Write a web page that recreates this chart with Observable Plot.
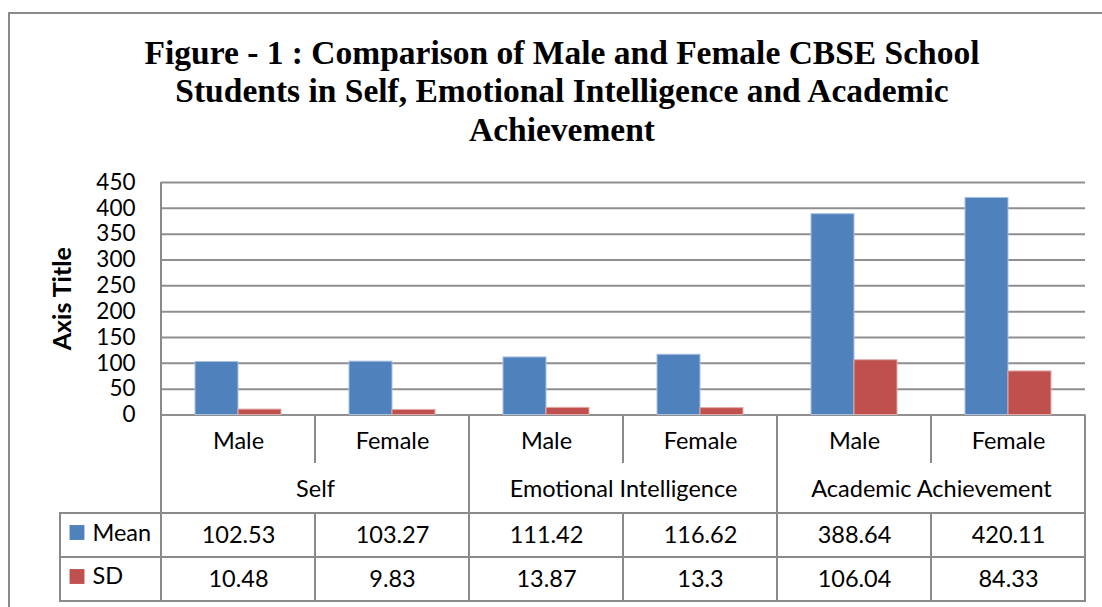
<!DOCTYPE html>
<html>
<head>
<meta charset="utf-8">
<script src="https://cdn.jsdelivr.net/npm/d3@7"></script>
<script src="https://cdn.jsdelivr.net/npm/@observablehq/plot@0.6"></script>
<style>
  html, body { margin: 0; padding: 0; background: #fff; }
  #wrap { position: relative; width: 1102px; height: 607px; overflow: hidden; background: #fff; }
  #frame { position: absolute; left: 8px; top: 12px; width: 1300px; height: 800px;
           border-left: 2px solid #8a8a8a; border-top: 2px solid #8a8a8a; }
  #title { position: absolute; left: 0; width: 1124px; top: 33.5px; text-align: center;
           font-family: "Liberation Serif", serif; font-weight: bold; font-size: 33.5px;
           line-height: 38.5px; color: #000; }
  #chart { position: absolute; left: 0; top: 165px; }
</style>
</head>
<body>
<div id="wrap">
  <div id="frame"></div>
  <div id="title"></div>
  <div id="chart"></div>
</div>
<script>
// ---- data ----
const titleLines = [
  "Figure - 1 : Comparison of Male and Female CBSE School",
  "Students in Self, Emotional Intelligence and Academic",
  "Achievement"
];
const groups = ["Self", "Emotional Intelligence", "Academic Achievement"];
const genders = ["Male", "Female", "Male", "Female", "Male", "Female"];
const series = ["Mean", "SD"];
const meanValues = [102.53, 103.27, 111.42, 116.62, 388.64, 420.11];
const sdValues = [10.48, 9.83, 13.87, 13.3, 106.04, 84.33];
const meanLabels = ["102.53", "103.27", "111.42", "116.62", "388.64", "420.11"];
const sdLabels = ["10.48", "9.83", "13.87", "13.3", "106.04", "84.33"];
const yTicks = [0, 50, 100, 150, 200, 250, 300, 350, 400, 450];
const axisTitle = "Axis Title";

// ---- derived tables ----
const cats = genders.map((g, i) => ({cat: i, gender: g, group: groups[Math.floor(i / 2)]}));
const meanRows = meanValues.map((v, i) => ({cat: i, series: "Mean", value: v, label: meanLabels[i]}));
const sdRows = sdValues.map((v, i) => ({cat: i, series: "SD", value: v, label: sdLabels[i]}));
const groupRows = cats.filter(d => d.cat % 2 === 0);

const BLUE = "#4F81BD", RED = "#C0504D";
const GRID = "#8f8f8f", LINE = "#8a8a8a";
// offsets below the plot frame (pixels)
const off = {catText: 26, groupText: 74, divEnd: 48.5, tableTop: 98.5, meanText: 120.5, rowMid: 142.5, sdText: 164.5, tableBottom: 186.5, tableLeft: -101};
const TXT = 23.5;

document.getElementById("title").innerHTML = titleLines.join("<br>");

const plot = Plot.plot({
  width: 1102,
  height: 442,
  marginLeft: 161,
  marginRight: 17,
  marginTop: 17,
  marginBottom: 192.5,
  style: {fontFamily: "Lato, sans-serif", fontSize: "22px", color: "#000", background: "transparent", overflow: "visible"},
  fx: {domain: d3.range(6), padding: 0, axis: null, label: null},
  x: {domain: series, paddingInner: 0, paddingOuter: 0.77, axis: null},
  y: {domain: [0, 450], axis: null},
  marks: [
    Plot.gridY(yTicks, {stroke: GRID, strokeOpacity: 1, strokeWidth: 2}),
    Plot.barY(meanRows, {fx: "cat", x: "series", y: "value", fill: BLUE, stroke: "#a9c1e0", strokeWidth: 1}),
    Plot.barY(sdRows, {fx: "cat", x: "series", y: "value", fill: RED, stroke: "#e3a9a7", strokeWidth: 1}),
    Plot.axisY(yTicks, {tickSize: 0, tickPadding: 26, fontSize: 22.5, label: null, fill: "#000"}),
    Plot.text([axisTitle], {fx: () => 0, text: d => d, frameAnchor: "left", textAnchor: "middle", lineAnchor: "middle",
      dx: -99, rotate: -90, fontWeight: "bold", fontSize: 25, fill: "#000"}),
    // category labels
    Plot.text(cats, {fx: "cat", text: "gender", frameAnchor: "bottom", lineAnchor: "middle", dy: off.catText, fontSize: TXT, fill: "#000"}),
    // group labels
    Plot.text(groupRows, {fx: "cat", text: "group", frameAnchor: "bottom-right", textAnchor: "middle", lineAnchor: "middle", dy: off.groupText, fontSize: TXT, fill: "#000"}),
    // data table values
    Plot.text(meanRows, {fx: "cat", text: "label", frameAnchor: "bottom", lineAnchor: "middle", dy: off.meanText, fontSize: TXT, fill: "#000"}),
    Plot.text(sdRows, {fx: "cat", text: "label", frameAnchor: "bottom", lineAnchor: "middle", dy: off.sdText, fontSize: TXT, fill: "#000"}),
    // legend keys in the table
    Plot.dot([series[0]], {fx: () => 0, frameAnchor: "bottom-left", symbol: "square", r: 8.4, fill: BLUE, stroke: null, dx: -84.5, dy: off.meanText - 3}),
    Plot.dot([series[1]], {fx: () => 0, frameAnchor: "bottom-left", symbol: "square", r: 8.4, fill: RED, stroke: null, dx: -84.5, dy: off.sdText - 3}),
    Plot.text([series[0]], {fx: () => 0, text: d => d, frameAnchor: "bottom-left", textAnchor: "start", lineAnchor: "middle", dx: -69, dy: off.meanText - 2, fontSize: TXT, fill: "#000"}),
    Plot.text([series[1]], {fx: () => 0, text: d => d, frameAnchor: "bottom-left", textAnchor: "start", lineAnchor: "middle", dx: -69, dy: off.sdText - 3, fontSize: TXT, fill: "#000"})
  ]
});

document.getElementById("chart").appendChild(plot);

// ---- data-table grid lines, placed with the plot's own fx / y scales ----
(function drawTableLines() {
  const fxs = plot.scale("fx");
  const ys = plot.scale("y");
  const bw = fxs.bandwidth;
  const edge = i => (i < 6 ? fxs.apply(i) : fxs.apply(5) + bw);
  const left = edge(0), right = edge(6);
  const y0 = ys.apply(0), yTop = ys.apply(450);
  const segs = [];
  segs.push([left, yTop, left, y0 + off.tableBottom]);
  for (let i = 1; i <= 6; i++) {
    const x = edge(i);
    if (i % 2 === 0) segs.push([x, y0, x, y0 + off.tableBottom]);
    else {
      segs.push([x, y0, x, y0 + off.divEnd]);
      segs.push([x, y0 + off.tableTop, x, y0 + off.tableBottom]);
    }
  }
  const tl = left + off.tableLeft;
  for (const k of ["tableTop", "rowMid", "tableBottom"]) segs.push([tl - 1, y0 + off[k], right + 1, y0 + off[k]]);
  segs.push([tl, y0 + off.tableTop, tl, y0 + off.tableBottom]);
  d3.select(plot).append("g")
    .attr("stroke", LINE).attr("stroke-width", 2).attr("fill", "none")
    .selectAll("line").data(segs).join("line")
    .attr("x1", d => d[0]).attr("y1", d => d[1]).attr("x2", d => d[2]).attr("y2", d => d[3]);
})();
</script>
</body>
</html>
